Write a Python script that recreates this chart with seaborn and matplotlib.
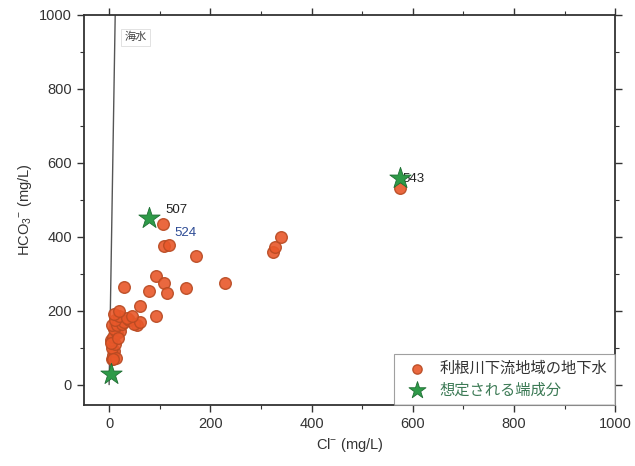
import matplotlib
matplotlib.use("Agg")
import matplotlib.pyplot as plt
from matplotlib.ticker import MultipleLocator
import seaborn as sns
import pandas as pd

# Groundwater samples in the lower Tone River basin
gw_cl = [107, 109, 119, 172, 92, 109, 115, 79, 30, 152, 228, 61, 92, 56,
         323, 327, 340, 574,
         5, 8, 10, 6, 12, 4, 8, 15, 22, 10, 5, 15, 25, 30, 40, 50, 60, 12,
         20, 10, 35, 20, 3, 13, 7, 18, 45]
gw_hco3 = [435, 374, 378, 347, 293, 276, 248, 252, 264, 261, 275, 212, 186, 162,
           360, 372, 399, 532,
           70, 80, 90, 100, 110, 120, 130, 140, 145, 150, 160, 160, 165, 170, 175, 165, 170, 175,
           185, 190, 180, 200, 113, 72, 68, 125, 185]

# Assumed end-members
em_cl = [79, 574, 4]
em_hco3 = [450, 559, 30]

# Seawater mixing line
sea_cl = [0, 12]
sea_hco3 = [0, 1000]

gw_label = "利根川下流地域の地下水"
em_label = "想定される端成分"

sns.set_style("ticks")
plt.rcParams["font.family"] = ["Liberation Sans", "Noto Sans CJK JP", "DejaVu Sans"]
plt.rcParams["mathtext.default"] = "regular"

gw = pd.DataFrame({"cl": gw_cl, "hco3": gw_hco3})
em = pd.DataFrame({"cl": em_cl, "hco3": em_hco3})

fig = plt.figure(figsize=(6.35, 4.66), dpi=100)
ax = fig.add_axes([0.132, 0.131, 0.837, 0.837])

ax.plot(sea_cl, sea_hco3, color="#555555", lw=1.0, zorder=1)
ax.text(30, 940, "海水", fontsize=8, color="#444444", va="center",
        family=["Noto Sans CJK JP"],
        bbox=dict(boxstyle="square,pad=0.3", fc="white", ec="#DDDDDD", lw=0.6))

sns.scatterplot(data=gw, x="cl", y="hco3", ax=ax, s=70, color="#E8582A",
                edgecolor="#B84A22", linewidth=1.0, alpha=0.9, label=gw_label, zorder=3)
sns.scatterplot(data=em, x="cl", y="hco3", ax=ax, marker="*", s=260, color="#2E9A48",
                edgecolor="#1E6E33", linewidth=0.6, label=em_label, zorder=4)

ax.text(112, 465, "507", fontsize=9.5, color="#222222")
ax.text(128, 402, "524", fontsize=9.5, color="#2C4A94")
ax.text(580, 548, "543", fontsize=9.5, color="#222222")

ax.set_xlim(-50, 1000)
ax.set_ylim(-55, 1000)
ax.xaxis.set_major_locator(MultipleLocator(200))
ax.xaxis.set_minor_locator(MultipleLocator(100))
ax.yaxis.set_major_locator(MultipleLocator(200))
ax.yaxis.set_minor_locator(MultipleLocator(100))
ax.tick_params(which="both", direction="out", top=True, right=True,
               color="#333333", labelsize=10.5, labelcolor="#333333")
ax.tick_params(which="major", length=5, width=1.0)
ax.tick_params(which="minor", length=3, width=0.8)
for sp in ax.spines.values():
    sp.set_color("#333333")
    sp.set_linewidth(1.3)

ax.set_xlabel("Cl$^{-}$ (mg/L)", fontsize=10.5, color="#333333")
ax.set_ylabel("HCO$_3$$^{-}$ (mg/L)", fontsize=10.5, color="#333333")

leg = ax.legend(loc="lower right", borderaxespad=0, fontsize=11, frameon=True,
                fancybox=False, edgecolor="#888888", handletextpad=0.5,
                borderpad=0.5, labelspacing=0.45, markerscale=0.8)
leg.get_frame().set_linewidth(0.8)
leg.get_texts()[0].set_color("#333333")
leg.get_texts()[1].set_color("#3C7A55")

fig.savefig("out.png", dpi=100)
